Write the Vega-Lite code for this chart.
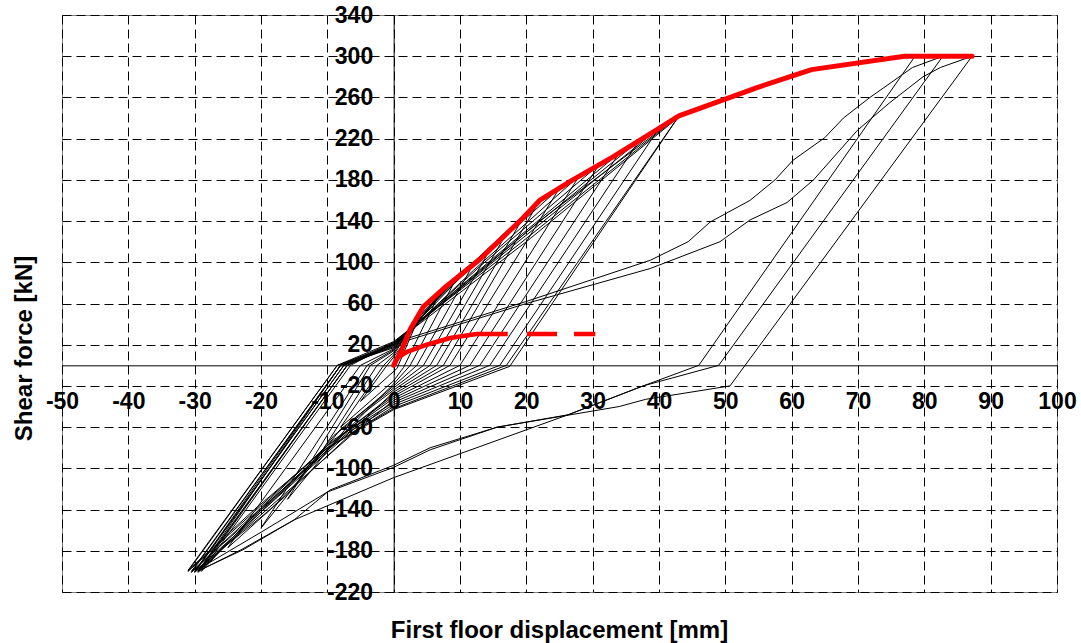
{
  "$schema": "https://vega.github.io/schema/vega-lite/v6.json",
  "width": 995,
  "height": 577,
  "autosize": {"type": "none"},
  "padding": {"left": 62, "top": 15, "right": 24, "bottom": 51},
  "background": "white",
  "config": {
    "view": {"stroke": "#808080", "strokeWidth": 1},
    "font": "Liberation Sans",
    "axis": {
      "domainColor": "black", "domainWidth": 1,
      "tickColor": "black", "tickWidth": 1,
      "grid": true, "gridColor": "black", "gridDash": [9, 5], "gridWidth": 1, "gridOpacity": 1,
      "labelFont": "Liberation Sans", "labelFontWeight": "bold", "labelFontSize": 23, "labelColor": "black",
      "labelFlush": false, "labelOverlap": false, "labelBound": false,
      "labelExpr": "'' + datum.value",
      "titleFont": "Liberation Sans", "titleFontWeight": "bold", "titleFontSize": 24, "titleColor": "black"
    }
  },
  "datasets": {
    "hyst": [
      {"i":1,"x":0,"y":0},{"i":2,"x":4.5,"y":57},{"i":3,"x":0.5,"y":-3},{"i":4,"x":-5,"y":-35},{"i":5,"x":-1,"y":0},
      {"i":6,"x":0,"y":8},{"i":7,"x":7,"y":71},{"i":8,"x":1.5,"y":-2},{"i":9,"x":0,"y":-15},{"i":10,"x":-8,"y":-60},
      {"i":11,"x":-1.5,"y":0},{"i":12,"x":0,"y":10},{"i":13,"x":3.5,"y":45},{"i":14,"x":9.5,"y":85},{"i":15,"x":2.5,"y":0},
      {"i":16,"x":0,"y":-18},{"i":17,"x":-5,"y":-50},{"i":18,"x":-12,"y":-95},{"i":19,"x":-2.5,"y":0},{"i":20,"x":0,"y":12},
      {"i":21,"x":4.5,"y":52},{"i":22,"x":12,"y":98},{"i":23,"x":3.5,"y":0},{"i":24,"x":0,"y":-20},{"i":25,"x":-6,"y":-52},
      {"i":26,"x":-16,"y":-130},{"i":27,"x":-3.5,"y":0},{"i":28,"x":0,"y":14},{"i":29,"x":6,"y":60},{"i":30,"x":14.5,"y":112},
      {"i":31,"x":4.5,"y":0},{"i":32,"x":0,"y":-22},{"i":33,"x":-8,"y":-62},{"i":34,"x":-20,"y":-158},{"i":35,"x":-4,"y":0},
      {"i":36,"x":0,"y":15},{"i":37,"x":7,"y":68},{"i":38,"x":17,"y":128},{"i":39,"x":5.5,"y":0},{"i":40,"x":0,"y":-24},
      {"i":41,"x":-9,"y":-68},{"i":42,"x":-16,"y":-125},{"i":43,"x":-25,"y":-177},{"i":44,"x":-5,"y":0},{"i":45,"x":0,"y":16},
      {"i":46,"x":8,"y":76},{"i":47,"x":19.5,"y":143},{"i":48,"x":6.5,"y":0},{"i":49,"x":0,"y":-26},{"i":50,"x":-4,"y":-50},
      {"i":51,"x":-17,"y":-125},{"i":52,"x":-30,"y":-200},{"i":53,"x":-8,"y":0},{"i":54,"x":0,"y":17},{"i":55,"x":9,"y":82},
      {"i":56,"x":22,"y":160},{"i":57,"x":7.5,"y":0},{"i":58,"x":0,"y":-28},{"i":59,"x":-8,"y":-68},{"i":60,"x":-19,"y":-135},
      {"i":61,"x":-30.5,"y":-200},{"i":62,"x":-8,"y":0},{"i":63,"x":0,"y":18},{"i":64,"x":10,"y":85},{"i":65,"x":25,"y":172},
      {"i":66,"x":8.5,"y":0},{"i":67,"x":0,"y":-30},{"i":68,"x":-6,"y":-58},{"i":69,"x":-18,"y":-130},{"i":70,"x":-29.5,"y":-201},
      {"i":71,"x":-7,"y":0},{"i":72,"x":0,"y":19},{"i":73,"x":12,"y":92},{"i":74,"x":28,"y":184},{"i":75,"x":10,"y":0},
      {"i":76,"x":0,"y":-32},{"i":77,"x":-10,"y":-78},{"i":78,"x":-21,"y":-142},{"i":79,"x":-31,"y":-200},{"i":80,"x":-8.5,"y":0},
      {"i":81,"x":0,"y":20},{"i":82,"x":13,"y":96},{"i":83,"x":31,"y":195},{"i":84,"x":11.5,"y":0},{"i":85,"x":0,"y":-34},
      {"i":86,"x":-5,"y":-60},{"i":87,"x":-20,"y":-145},{"i":88,"x":-30,"y":-201},{"i":89,"x":-7.5,"y":0},{"i":90,"x":0,"y":21},
      {"i":91,"x":15,"y":104},{"i":92,"x":34,"y":206},{"i":93,"x":13,"y":0},{"i":94,"x":0,"y":-36},{"i":95,"x":-9,"y":-72},
      {"i":96,"x":-20,"y":-138},{"i":97,"x":-29,"y":-200},{"i":98,"x":-6.5,"y":0},{"i":99,"x":0,"y":22},{"i":100,"x":16,"y":108},
      {"i":101,"x":37,"y":218},{"i":102,"x":14.5,"y":0},{"i":103,"x":0,"y":-38},{"i":104,"x":-7,"y":-66},{"i":105,"x":-22,"y":-150},
      {"i":106,"x":-30.5,"y":-201},{"i":107,"x":-8,"y":0},{"i":108,"x":0,"y":22},{"i":109,"x":18,"y":116},{"i":110,"x":40,"y":230},
      {"i":111,"x":16,"y":0},{"i":112,"x":0,"y":-40},{"i":113,"x":-11,"y":-85},{"i":114,"x":-21,"y":-140},{"i":115,"x":-31,"y":-199},
      {"i":116,"x":-8.5,"y":0},{"i":117,"x":0,"y":23},{"i":118,"x":19,"y":118},{"i":119,"x":43,"y":242},{"i":120,"x":17,"y":0},
      {"i":121,"x":0,"y":-42},{"i":122,"x":-6,"y":-64},{"i":123,"x":-19,"y":-142},{"i":124,"x":-30,"y":-200},{"i":125,"x":-7.5,"y":0},
      {"i":126,"x":0,"y":21},{"i":127,"x":20,"y":120},{"i":128,"x":42.8,"y":240},{"i":129,"x":17.5,"y":-1},{"i":130,"x":0,"y":-43},
      {"i":131,"x":-10,"y":-80},{"i":132,"x":-20,"y":-140},{"i":133,"x":-29.5,"y":-200},{"i":134,"x":-7,"y":0},{"i":135,"x":0,"y":20},
      {"i":136,"x":22,"y":140},{"i":137,"x":43,"y":242},{"i":138,"x":55,"y":270},{"i":139,"x":63,"y":287},{"i":140,"x":78.6,"y":300},
      {"i":141,"x":46,"y":0},{"i":142,"x":37.6,"y":-20},{"i":143,"x":26.3,"y":-48},{"i":144,"x":15.6,"y":-60},{"i":145,"x":5.5,"y":-80},
      {"i":146,"x":0,"y":-97},{"i":147,"x":-9.6,"y":-121},{"i":148,"x":-15,"y":-150},{"i":149,"x":-22.7,"y":-179},{"i":150,"x":-29,"y":-198},
      {"i":151,"x":-7,"y":0},{"i":152,"x":0,"y":22},{"i":153,"x":20,"y":62},{"i":154,"x":38.7,"y":102},{"i":155,"x":44.4,"y":120},
      {"i":156,"x":47.7,"y":139},{"i":157,"x":53.7,"y":160},{"i":158,"x":57.5,"y":180},{"i":159,"x":60.2,"y":199},{"i":160,"x":65,"y":221},
      {"i":161,"x":67.8,"y":240},{"i":162,"x":71.8,"y":260},{"i":163,"x":78.2,"y":289},{"i":164,"x":82.8,"y":300},{"i":165,"x":49,"y":0},
      {"i":166,"x":37.6,"y":-20},{"i":167,"x":26.3,"y":-48},{"i":168,"x":0,"y":-109},{"i":169,"x":-15,"y":-150},{"i":170,"x":-23,"y":-179},
      {"i":171,"x":-29.5,"y":-200},{"i":172,"x":-8,"y":0},{"i":173,"x":0,"y":20},{"i":174,"x":20,"y":60},{"i":175,"x":38.7,"y":94},
      {"i":176,"x":49.2,"y":120},{"i":177,"x":53.7,"y":141},{"i":178,"x":59.3,"y":158},{"i":179,"x":63.3,"y":180},{"i":180,"x":69.9,"y":228},
      {"i":181,"x":74.8,"y":255},{"i":182,"x":79.8,"y":280},{"i":183,"x":82.4,"y":289},{"i":184,"x":87.2,"y":300},{"i":185,"x":50.7,"y":-20},
      {"i":186,"x":38,"y":-33},{"i":187,"x":34,"y":-40},{"i":188,"x":15.6,"y":-60},{"i":189,"x":5.5,"y":-82},{"i":190,"x":0,"y":-99},
      {"i":191,"x":-10,"y":-123},{"i":192,"x":-20,"y":-162},{"i":193,"x":-30,"y":-200}
    ],
    "env": [
      {"i":1,"x":0,"y":0},{"i":2,"x":1.2,"y":15},{"i":3,"x":2.5,"y":35},{"i":4,"x":4.5,"y":57},{"i":5,"x":8,"y":77},
      {"i":6,"x":13,"y":103},{"i":7,"x":19.5,"y":143},{"i":8,"x":22,"y":160},{"i":9,"x":27,"y":180},{"i":10,"x":33,"y":202},
      {"i":11,"x":40,"y":230},{"i":12,"x":43,"y":242},{"i":13,"x":55,"y":270},{"i":14,"x":63,"y":287},{"i":15,"x":77,"y":300},
      {"i":16,"x":87.2,"y":300}
    ],
    "env2": [
      {"i":1,"x":0,"y":0},{"i":2,"x":0.5,"y":7},{"i":3,"x":2,"y":13},{"i":4,"x":5,"y":20},{"i":5,"x":8.5,"y":26.5},
      {"i":6,"x":12.5,"y":30.4},{"i":7,"x":17.2,"y":30.4}
    ],
    "env2dash": [
      {"i":1,"x":20.1,"y":30.4},{"i":2,"x":30.4,"y":30.4}
    ]
  },
  "encoding": {
    "x": {
      "field": "x", "type": "quantitative",
      "scale": {"domain": [-50, 100], "nice": false, "zero": false},
      "axis": {
        "values": [-50,-40,-30,-20,-10,0,10,20,30,40,50,60,70,80,90,100],
        "orient": "bottom", "offset": -226.68,
        "tickSize": 6, "labelPadding": 19,
        "title": "First floor displacement [mm]",
        "titleX": 497, "titleY": 265, "titleBaseline": "middle", "titleAnchor": "middle"
      }
    },
    "y": {
      "field": "y", "type": "quantitative",
      "scale": {"domain": [-220, 340], "nice": false, "zero": false},
      "axis": {
        "values": [-220,-180,-140,-100,-60,-20,20,60,100,140,180,220,260,300,340],
        "orient": "left", "offset": -331.67,
        "tickSize": 8, "labelPadding": 13,
        "title": "Shear force [kN]",
        "titleX": -368.7, "titleY": 333, "titleAngle": -90, "titleBaseline": "middle", "titleAnchor": "middle"
      }
    },
    "order": {"field": "i", "type": "quantitative"}
  },
  "layer": [
    {"data": {"name": "hyst"}, "mark": {"type": "line", "color": "black", "strokeWidth": 1, "strokeJoin": "miter"}},
    {"data": {"name": "env"}, "mark": {"type": "line", "color": "#FF0000", "strokeWidth": 5, "strokeJoin": "round", "strokeCap": "round"}},
    {"data": {"name": "env2"}, "mark": {"type": "line", "color": "#FF0000", "strokeWidth": 4.5, "strokeJoin": "round"}},
    {"data": {"name": "env2dash"}, "mark": {"type": "line", "color": "#FF0000", "strokeWidth": 4.5, "strokeDash": [30, 17]}}
  ]
}
